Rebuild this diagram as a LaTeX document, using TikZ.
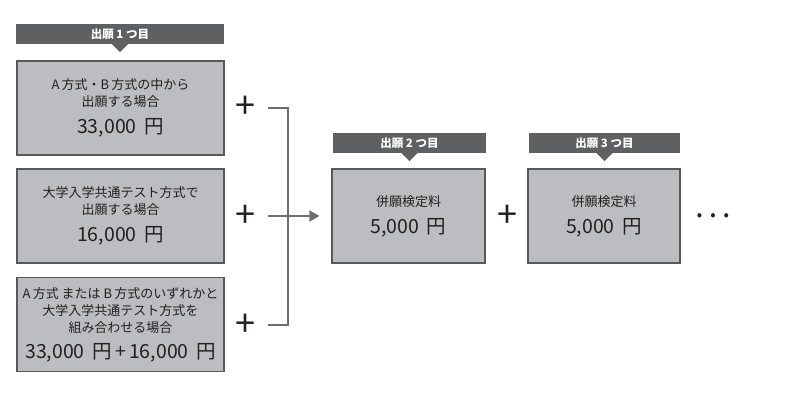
\documentclass[tikz,border=0pt]{standalone}
\usepackage{fontspec}
\setmainfont{Noto Sans CJK JP}
\usepackage{xcolor}
\usetikzlibrary{arrows.meta,positioning}

\definecolor{tagGray}{HTML}{5F6062}
\definecolor{boxGray}{HTML}{BCBDC0}
\definecolor{edgeGray}{HTML}{58595B}
\definecolor{lineGray}{HTML}{6D6E71}
\definecolor{ink}{HTML}{231F20}

\newcommand{\amount}[1]{{\fontsize{19.5}{23}\selectfont #1}}

\begin{document}
\begin{tikzpicture}[x=1pt, y=-1pt, every node/.style={font=\fontsize{13}{17}\selectfont, text=ink},
  tag/.style={fill=tagGray, text=white, font=\fontsize{11.5}{13}\selectfont\bfseries, minimum height=20pt, inner sep=0pt},
  fee/.style={draw=edgeGray, line width=1.1pt, fill=boxGray, align=center, minimum height=94pt, inner sep=0pt},
  plussign/.style={font=\fontsize{36}{36}\selectfont, inner sep=0pt},
  link/.style={draw=lineGray, line width=1.6pt}]
  \useasboundingbox[fill=white] (0,0) rectangle (800,413);

  % first application
  \node[tag, minimum width=208pt] (tag1) at (120,34) {出願 1 つ目};
  \fill[tagGray] (tag1.south) ++(-8,0) -- ++(16,0) -- ++(-8,8) -- cycle;
  \node[fee, minimum width=207pt] (box1) at (120.5,108) {A\,方式・B\,方式の中から\\出願する場合\\[10pt]\amount{33,000\,\ 円}};
  \node[fee, minimum width=207pt] (box2) at (120.5,216) {大学入学共通テスト方式で\\出願する場合\\[10pt]\amount{16,000\,\ 円}};
  \node[fee, minimum width=207pt] (box3) at (120.5,324.5) {A\,方式 または B\,方式のいずれかと\\大学入学共通テスト方式を\\組み合わせる場合\\[9pt]\amount{33,000\,\ 円\,+\,16,000\,\ 円}};

  \node[plussign] (plus1) at (245,107) {+};
  \node[plussign] (plus2) at (245,216) {+};
  \node[plussign] (plus3) at (245,325) {+};

  % second and third
  \node[tag, minimum width=153pt] (tag2) at (409.5,143) {出願 2 つ目};
  \fill[tagGray] (tag2.south) ++(-8,0) -- ++(16,0) -- ++(-8,8) -- cycle;
  \node[fee, minimum width=153pt] (box4) at (408.5,216) {併願検定料\\[10pt]\amount{5,000\,\ 円}};
  \node[plussign] (plus4) at (507,216) {+};
  \node[tag, minimum width=151pt] (tag3) at (604.5,143) {出願 3 つ目};
  \fill[tagGray] (tag3.south) ++(-8,0) -- ++(16,0) -- ++(-8,8) -- cycle;
  \node[fee, minimum width=152pt] (box5) at (604,216) {併願検定料\\[10pt]\amount{5,000\,\ 円}};
  \node[font=\fontsize{16}{16}\selectfont, inner sep=0pt] (dots) at (713,217) {•\hspace{8pt}•\hspace{8pt}•};

  \coordinate (j1) at (268,108);
  \coordinate (j2) at (268,216);
  \coordinate (j3) at (268,325);
  \draw[link] (j1) -- ++(20,0) |- (j3);
  \draw[link, -{Triangle[length=10pt, width=11pt]}, shorten >=12pt] (j2) -- (box4.west);
\end{tikzpicture}
\end{document}
